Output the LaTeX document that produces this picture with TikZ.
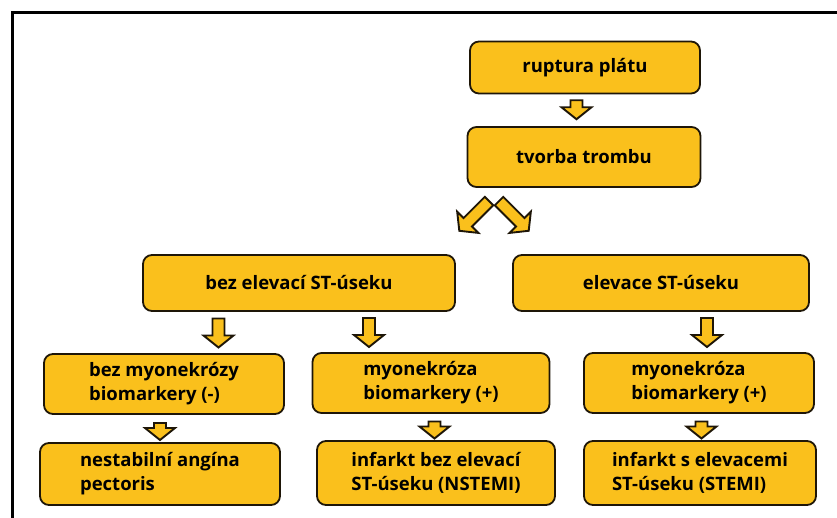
\documentclass[tikz,border=0pt]{standalone}
\usepackage{fontspec}
\setmainfont{Open Sans}
\usepackage{tikz}
\usetikzlibrary{calc}
\usetikzlibrary{positioning}

\definecolor{boxfill}{RGB}{250,192,28}
\definecolor{boxline}{RGB}{30,22,8}

\tikzset{
  stage/.style={draw=boxline, fill=boxfill, line width=1.8pt, rounded corners=9pt,
    font=\bfseries\fontsize{18.5}{24}\selectfont, align=left, inner sep=0pt},
  pics/blkarrow/.style={code={
    \draw[draw=boxline, fill=boxfill, line width=1.9pt, line join=miter]
      (-6,0) -- (-6,-#1) -- (-15,-#1) -- (0,-#1-12) -- (15,-#1) -- (6,-#1) -- (6,0) -- cycle;}}
}

\begin{document}
\begin{tikzpicture}[x=1pt,y=1pt]
\useasboundingbox (0,0) rectangle (837,-518);
\draw[line width=3pt] (12,-518) -- (12,-13) -- (837,-13);

% top of the chain
\node[stage, minimum width=230, minimum height=52] (rupt) at (585,-67.5) {ruptura plátu};
\node[stage, minimum width=233, minimum height=60] (trom) at (584,-157) {tvorba trombu};

% ST segment
\node[stage, minimum width=312, minimum height=56] (bez) at (299,-283) {bez elevací ST-úseku};
\node[stage, minimum width=296, minimum height=56] (elev) at (661,-283) {elevace ST-úseku};

% biomarkers
\node[stage, minimum width=240, minimum height=60] (bmyo) at (164,-384) {bez myonekrózy\\biomarkery (-)};
\node[stage, minimum width=237, minimum height=60] (myo1) at (431,-383) {myonekróza\\biomarkery (+)};
\node[stage, minimum width=230, minimum height=60] (myo2) at (699,-383) {myonekróza\\biomarkery (+)};

% diagnoses
\node[stage, minimum width=240, minimum height=62] (nest) at (160,-474) {nestabilní angína\\pectoris};
\node[stage, minimum width=238, minimum height=64] (nstemi) at (436,-473) {infarkt bez elevací\\ST-úseku (NSTEMI)};
\node[stage, minimum width=232, minimum height=64] (stemi) at (700,-473) {infarkt s elevacemi\\ST-úseku (STEMI)};

% block arrows
\pic at ($(rupt.south)!0.5!(trom.north)+(-8,10)$) {blkarrow=7};
\pic[rotate=-45] at ($(bez.north)!0.5!(elev.north)+(9,53)$) {blkarrow=30};
\pic[rotate=45] at ($(bez.north)!0.5!(elev.north)+(19,53)$) {blkarrow=30};
\pic at ($(bez.south)!0.5!(bmyo.north)+(-13,14)$) {blkarrow=17};
\pic at ($(bez.south)!0.5!(myo1.north)+(4,14)$) {blkarrow=17};
\pic at ($(elev.south)!0.5!(myo2.north)+(27,14)$) {blkarrow=17};
\pic at ($(bmyo.south)!0.5!(nest.north)+(-2,5.5)$) {blkarrow=5};
\pic at ($(myo1.south)!0.5!(nstemi.north)+(1,5.5)$) {blkarrow=5};
\pic at ($(myo2.south)!0.5!(stemi.north)+(2,5.5)$) {blkarrow=5};
\end{tikzpicture}
\end{document}
